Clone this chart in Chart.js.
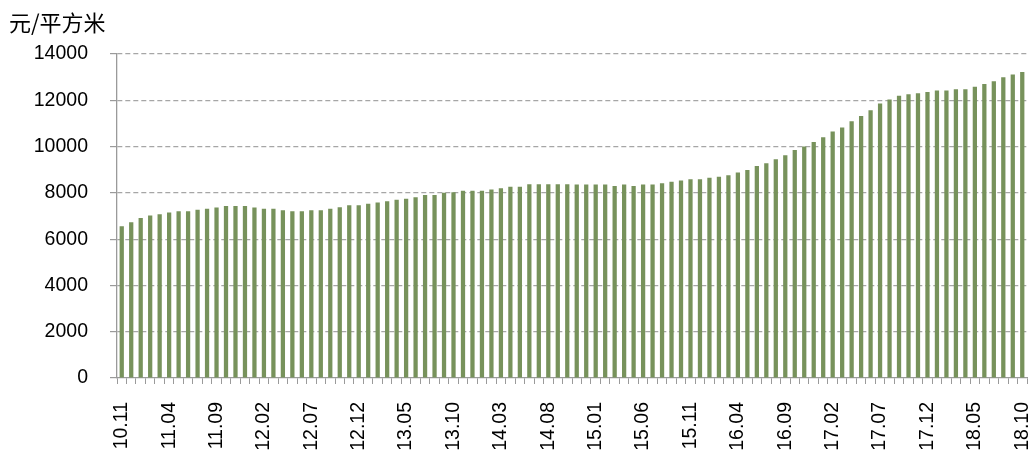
<!DOCTYPE html>
<html>
<head>
<meta charset="utf-8">
<script src="https://cdn.jsdelivr.net/npm/chart.js@4"></script>
<style>
  html, body { margin: 0; padding: 0; background: #ffffff; }
  #wrap { width: 1034px; height: 456px; position: relative; }
</style>
</head>
<body>
<div id="wrap"><canvas id="c" width="1034" height="456"></canvas></div>
<script>
// Monthly average price, 2010.11 – 2018.10
const startYear = 2010;
const startMonth = 11;
const monthCount = 96;

const priceValues = [
  6560, 6730, 6910, 7020, 7080, 7150, 7210, 7210, 7270, 7310, 7370, 7430,
  7430, 7430, 7370, 7310, 7310, 7250, 7210, 7210, 7250, 7250, 7310, 7380,
  7465, 7465, 7525, 7580, 7640, 7700, 7750, 7810, 7910, 7910, 8000, 8030,
  8090, 8090, 8090, 8140, 8200, 8260, 8260, 8370, 8370, 8370, 8370, 8370,
  8360, 8360, 8360, 8360, 8300, 8360, 8300, 8360, 8360, 8420, 8475, 8530,
  8590, 8590, 8650, 8700, 8760, 8880, 8990, 9165, 9280, 9450, 9625, 9855,
  10000, 10200, 10400, 10650, 10820, 11090, 11320, 11570, 11860, 12030, 12200, 12260,
  12300, 12360, 12420, 12420, 12475, 12475, 12590, 12700, 12820, 12990, 13110, 13220
];

const yTicks = [0, 2000, 4000, 6000, 8000, 10000, 12000, 14000];
const unitLabel = '元/平方米';

// Category labels "YY.MM"
const monthLabels = [];
for (let i = 0; i < monthCount; i++) {
  const m0 = startMonth - 1 + i;
  const y = startYear + Math.floor(m0 / 12);
  const m = (m0 % 12) + 1;
  monthLabels.push(String(y % 100).padStart(2, '0') + '.' + String(m).padStart(2, '0'));
}

const axisGrey = '#9a9a9a';
const barGreen = '#77925b';
const tickFont = { family: '"Liberation Sans", Arial, sans-serif', size: 19.5 };

const unitTitle = {
  id: 'unitTitle',
  afterDraw(chart) {
    const ctx = chart.ctx;
    ctx.save();
    ctx.font = '22px "Noto Sans CJK SC", sans-serif';
    ctx.fillStyle = '#000000';
    ctx.textAlign = 'left';
    ctx.textBaseline = 'middle';
    ctx.fillText(unitLabel, 9, 23);
    ctx.restore();
  }
};

new Chart(document.getElementById('c'), {
  type: 'bar',
  data: {
    labels: monthLabels,
    datasets: [{
      data: priceValues,
      backgroundColor: barGreen,
      borderWidth: 0,
      barPercentage: 0.45,
      categoryPercentage: 1.0
    }]
  },
  options: {
    responsive: false,
    animation: false,
    devicePixelRatio: 1,
    layout: { padding: { top: 54, right: 7, left: 0, bottom: 0 } },
    plugins: {
      legend: { display: false },
      tooltip: { enabled: false }
    },
    scales: {
      x: {
        offset: true,
        grid: {
          display: true,
          offset: true,
          drawOnChartArea: false,
          drawTicks: true,
          tickLength: 6,
          tickColor: axisGrey,
          tickWidth: 1
        },
        border: { display: true, color: axisGrey, width: 1.3 },
        ticks: {
          autoSkip: false,
          minRotation: 90,
          maxRotation: 90,
          padding: 18,
          color: '#000000',
          font: tickFont,
          callback: (v, i) => (i % 5 === 0 ? monthLabels[i] : '')
        },
        afterFit(scale) {
          scale.height = 78;
          scale.paddingLeft = 0;
          scale.paddingRight = 0;
        }
      },
      y: {
        min: 0,
        max: 14000,
        afterBuildTicks(scale) { scale.ticks = yTicks.map(v => ({ value: v })); },
        grid: {
          color: ctx => (ctx.tick && ctx.tick.value === 0 ? 'rgba(0,0,0,0)' : '#a6a6a6'),
          lineWidth: 1.2,
          drawTicks: true,
          tickLength: 7,
          tickColor: axisGrey,
          tickBorderDash: []
        },
        border: { display: true, color: axisGrey, width: 1.3, dash: [5, 3] },
        ticks: {
          padding: 22,
          color: '#000000',
          font: tickFont,
          callback: v => String(v)
        },
        afterFit(scale) {
          scale.width = 117;
          scale.paddingTop = 0;
          scale.paddingBottom = 0;
        }
      }
    }
  },
  plugins: [unitTitle]
});
</script>
</body>
</html>
